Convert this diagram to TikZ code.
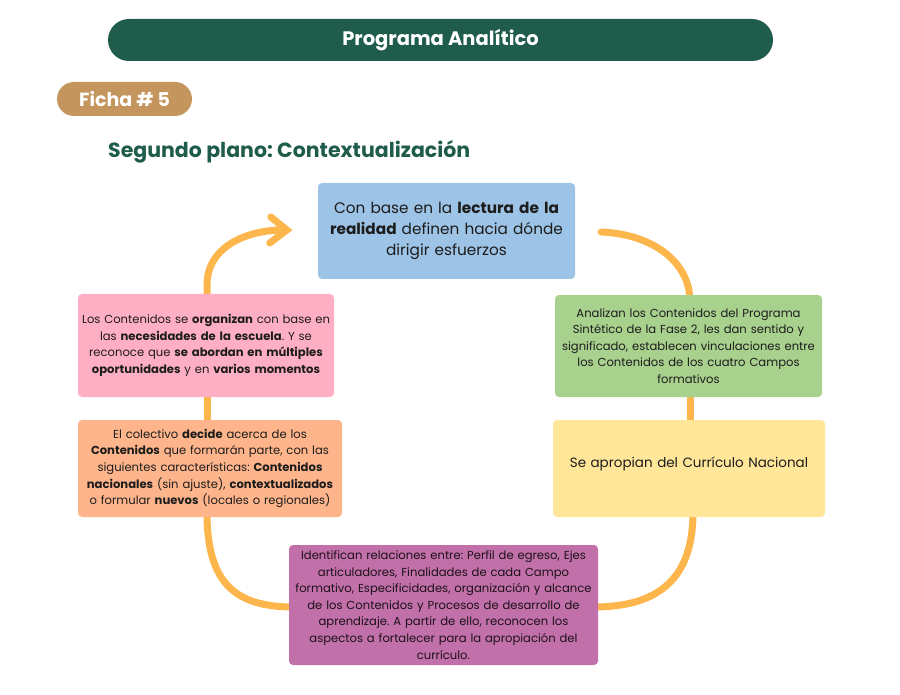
\documentclass[tikz,border=0pt]{standalone}
\usepackage{fontspec}
\setmainfont{Poppins}
\usetikzlibrary{arrows.meta,backgrounds,calc}
\definecolor{titlegreen}{HTML}{1F5C4B}
\definecolor{fichatan}{HTML}{C4965D}
\definecolor{boxblue}{HTML}{9DC3E6}
\definecolor{boxpink}{HTML}{FFAFC3}
\definecolor{boxgreen}{HTML}{A9D18E}
\definecolor{boxorange}{HTML}{FFB58B}
\definecolor{boxyellow}{HTML}{FFE699}
\definecolor{boxpurple}{HTML}{C170A9}
\definecolor{flow}{HTML}{FDB64C}
\definecolor{txt}{HTML}{1C1C1C}
\frenchspacing
\begin{document}
\begin{tikzpicture}[x=1pt,y=-1pt,
  card/.style={rounded corners=4pt, inner sep=0pt, align=center, text=txt,
     font=\fontsize{11.6}{16.6}\selectfont},
  flowline/.style={draw=flow, line width=7pt, line cap=round},
]
\useasboundingbox (0,0) rectangle (900,695);
% header
\node[fill=titlegreen, rounded corners=21pt, minimum width=665pt, minimum height=42pt,
      text=white, font=\fontsize{19.5}{22}\selectfont\bfseries] (title) at (440.5,40) {Programa Analítico};
\node[fill=fichatan, rounded corners=17pt, minimum width=135pt, minimum height=34pt,
      text=white, font=\fontsize{19}{21}\selectfont\bfseries] (ficha) at (124.5,99) {Ficha \# 5};
\node[anchor=west, text=titlegreen, font=\fontsize{20.5}{23}\selectfont\bfseries, inner sep=0pt] (sub) at (108,152) {Segundo plano: Contextualización};
% boxes
\node[card, fill=boxblue, minimum width=257pt, minimum height=96pt, text width=252pt,
      font=\fontsize{15.3}{21}\selectfont] (blue) at (446.5,231)
  {Con base en la \textbf{lectura de la}\\ \textbf{realidad} definen hacia dónde\\ dirigir esfuerzos};
\node[card, fill=boxpink, minimum width=256pt, minimum height=103pt, text width=254pt] (pink) at (206,345.5)
  {Los Contenidos se \textbf{organizan} con base en\\ las \textbf{necesidades de la escuela}. Y se\\ reconoce que \textbf{se abordan en múltiples}\\ \textbf{oportunidades} y en \textbf{varios momentos}};
\node[card, fill=boxgreen, minimum width=267pt, minimum height=102pt, text width=264pt] (green) at (688.5,346)
  {Analizan los Contenidos del Programa\\ Sintético de la Fase 2, les dan sentido y\\ significado, establecen vinculaciones entre\\ los Contenidos de los cuatro Campos\\ formativos};
\node[card, fill=boxorange, minimum width=264pt, minimum height=97pt, text width=262pt] (orange) at (210,468.5)
  {El colectivo \textbf{decide} acerca de los\\ \textbf{Contenidos} que formarán parte, con las\\ siguientes características: \textbf{Contenidos}\\ \textbf{nacionales} (sin ajuste), \textbf{contextualizados}\\ o formular \textbf{nuevos} (locales o regionales)};
\node[card, fill=boxyellow, minimum width=272pt, minimum height=97pt, text width=268pt,
      font=\fontsize{13.5}{18}\selectfont] (yellow) at (689,468.5)
  {\raisebox{12pt}{Se apropian del Currículo Nacional}};
\node[card, fill=boxpurple, minimum width=309pt, minimum height=120pt, text width=307pt, text=black!85!boxpurple] (purple) at (443.5,605)
  {Identifican relaciones entre: Perfil de egreso, Ejes\\ articuladores, Finalidades de cada Campo\\ formativo, Especificidades, organización y alcance\\ de los Contenidos y Procesos de desarrollo de\\ aprendizaje. A partir de ello, reconocen los\\ aspectos a fortalecer para la apropiación del\\ currículo.};
% free ends
\coordinate (arrowtip) at ($(blue.west)+(-31,-1)$);
\coordinate (arcstart) at ($(blue.east)+(26,1)$);
\begin{scope}[on background layer]
  \draw[flowline] ($(pink.north)+(1,5)$) -- ++(0,-14) .. controls ++(0,-38) and ($(arrowtip)+(-40,0)$) .. ($(arrowtip)+(-4,0)$);
  \draw[flowline] ($(arrowtip)+(-16,-13)$) -- (arrowtip) -- ($(arrowtip)+(-17,13)$);
  \draw[flowline] (arcstart) .. controls ($(arcstart)+(50,2)$) and ($(green.north)+(1,-34)$) .. ($(green.north)+(1.5,6)$);
  \draw[flowline] ($(green.south)+(1.5,-5)$) -- ($(yellow.north)+(1,5)$);
  \draw[flowline] ($(yellow.south)+(4,-5)$) .. controls ($(yellow.south)+(4,62)$) and ($(purple.east)+(60,2)$) .. ($(purple.east)+(-5,2)$);
  \draw[flowline] ($(pink.south)+(1,-5)$) -- ($(orange.north)+(-3,5)$);
  \draw[flowline] ($(orange.south)+(-3,-5)$) .. controls ($(orange.south)+(-3,65)$) and ($(purple.west)+(-55,2)$) .. ($(purple.west)+(5,2)$);
\end{scope}
\end{tikzpicture}
\end{document}
